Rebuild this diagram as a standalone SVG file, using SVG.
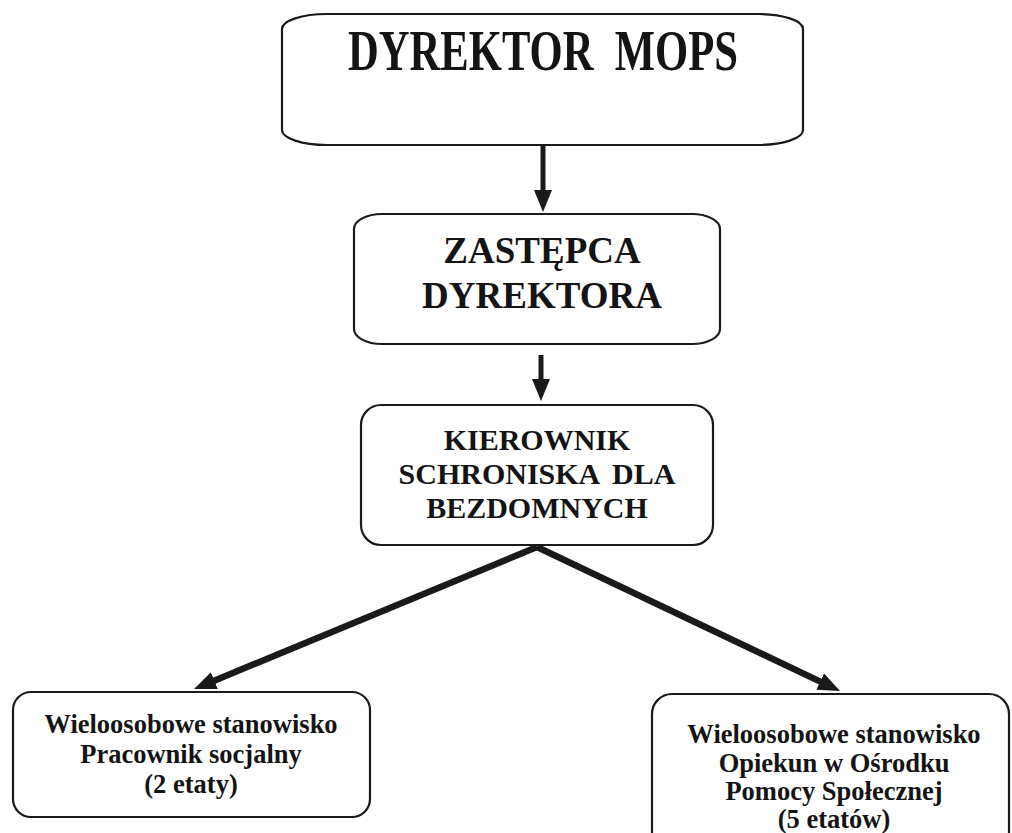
<svg xmlns="http://www.w3.org/2000/svg" width="1012" height="833" viewBox="0 0 1012 833">
<style>
.box{fill:#fff;stroke:#1a1a1a;stroke-width:2.2}
.t{font-family:"Liberation Serif","Times New Roman",serif;font-weight:bold;fill:#141414;text-anchor:middle}
.v{stroke:#1a1a1a;stroke-width:5;fill:none}
.d{stroke:#1a1a1a;stroke-width:6.5;fill:none}
</style>
<defs>
<marker id="ah" markerUnits="userSpaceOnUse" markerWidth="24" markerHeight="20" refX="6" refY="9" orient="auto">
<path d="M0,0 L22,9 L0,18 z" fill="#1a1a1a"/>
</marker>
</defs>
<rect width="1012" height="833" fill="#fff"/>
<g id="connectors">
<line class="v" x1="543" y1="146" x2="543" y2="196" marker-end="url(#ah)"/>
<line class="v" x1="541" y1="355" x2="541" y2="385" marker-end="url(#ah)"/>
<path class="d" d="M537,547 L208.8,682.9" marker-end="url(#ah)"/>
<path class="d" d="M537,547 L825.6,684.1" marker-end="url(#ah)"/>
</g>
<g id="dyrektor">
<rect class="box" x="282" y="14" width="521" height="131" rx="45" ry="15"/>
<text class="t" x="543" y="70" font-size="56" textLength="390" lengthAdjust="spacingAndGlyphs" word-spacing="14">DYREKTOR MOPS</text>
</g>
<g id="zastepca">
<rect class="box" x="354" y="214" width="366" height="130" rx="28" ry="15"/>
<text class="t" x="542" y="263" font-size="37">ZASTĘPCA</text>
<text class="t" x="542" y="308" font-size="37">DYREKTORA</text>
</g>
<g id="kierownik">
<rect class="box" x="361" y="405" width="352" height="140" rx="20" ry="20"/>
<text class="t" x="537" y="450" font-size="30">KIEROWNIK</text>
<text class="t" x="537" y="484" font-size="30" word-spacing="6">SCHRONISKA DLA</text>
<text class="t" x="537" y="518" font-size="30">BEZDOMNYCH</text>
</g>
<g id="pracownik">
<rect class="box" x="13" y="692" width="357" height="125" rx="18" ry="18"/>
<text class="t" x="191" y="733" font-size="26.5">Wieloosobowe stanowisko</text>
<text class="t" x="191" y="763" font-size="26.5">Pracownik socjalny</text>
<text class="t" x="191" y="793" font-size="26.5">(2 etaty)</text>
</g>
<g id="opiekun">
<rect class="box" x="652" y="694" width="357" height="160" rx="20" ry="20"/>
<text class="t" x="834" y="743" font-size="26.5">Wieloosobowe stanowisko</text>
<text class="t" x="834" y="772" font-size="26.5">Opiekun w Ośrodku</text>
<text class="t" x="834" y="800" font-size="26.5">Pomocy Społecznej</text>
<text class="t" x="834" y="828" font-size="26.5">(5 etatów)</text>
</g>
</svg>
